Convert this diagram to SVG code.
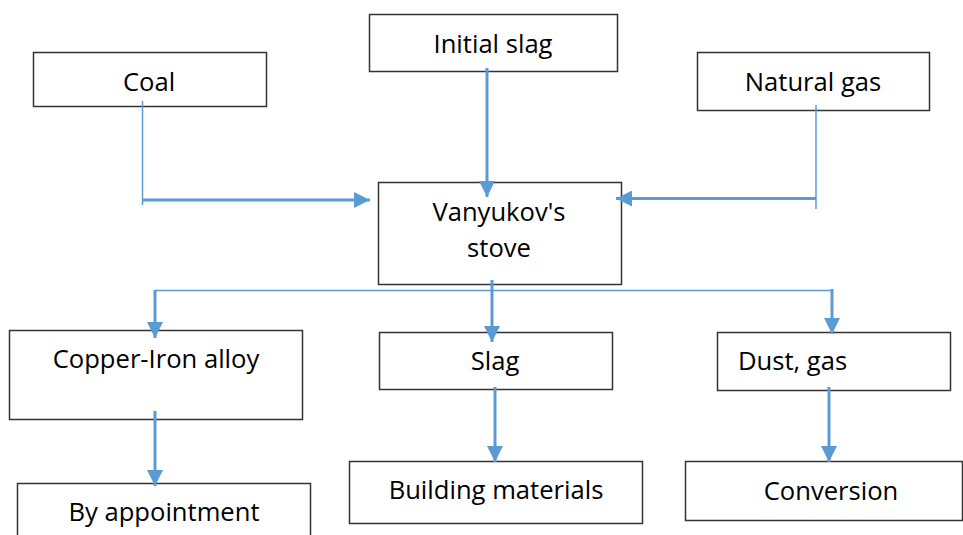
<svg xmlns="http://www.w3.org/2000/svg" width="963" height="535" viewBox="0 0 963 535">
<style>
.box{fill:#fff;stroke:#333;stroke-width:1.5}
.t{font-family:"Open Sans","Liberation Sans",sans-serif;font-size:25.6px;fill:#000;text-anchor:middle}
.thin{stroke:#5B9BD5;stroke-width:1.5;fill:none}
.thick{stroke:#5B9BD5;stroke-width:3;fill:none}
</style>
<defs>
<marker id="ah" markerUnits="userSpaceOnUse" markerWidth="16" markerHeight="16" viewBox="0 0 16 16" refX="16" refY="8" orient="auto">
<path d="M0,0 L16,8 L0,16 Z" fill="#5B9BD5"/>
</marker>
</defs>
<rect width="963" height="535" fill="#fff"/>
<g id="coal"><rect class="box" x="33.5" y="52.5" width="233" height="54"/><text class="t" x="149" y="91">Coal</text></g>
<g id="initial-slag"><rect class="box" x="369.5" y="14.5" width="248" height="57"/><text class="t" x="493" y="53">Initial slag</text></g>
<g id="natural-gas"><rect class="box" x="697.5" y="52.5" width="232" height="58"/><text class="t" x="813" y="91">Natural gas</text></g>
<g id="stove"><rect class="box" x="378.5" y="182.5" width="243" height="102"/><text class="t" x="499" y="221">Vanyukov's</text><text class="t" x="499" y="257">stove</text></g>
<g id="copper-iron"><rect class="box" x="9.5" y="330.5" width="293" height="89"/><text class="t" x="156" y="368">Copper-Iron alloy</text></g>
<g id="slag"><rect class="box" x="379.5" y="332.5" width="233" height="57"/><text class="t" x="495" y="370">Slag</text></g>
<g id="dust-gas"><rect class="box" x="717.5" y="332.5" width="233" height="58"/><text class="t" x="738" y="370" style="text-anchor:start">Dust, gas</text></g>
<g id="by-appointment"><rect class="box" x="17.5" y="483.5" width="293" height="60"/><text class="t" x="164" y="521">By appointment</text></g>
<g id="building-materials"><rect class="box" x="349.5" y="461.5" width="293" height="62"/><text class="t" x="496" y="499">Building materials</text></g>
<g id="conversion"><rect class="box" x="685.5" y="461.5" width="277" height="59"/><text class="t" x="831" y="500">Conversion</text></g>
<g id="connectors">
<line class="thin" x1="142.5" y1="101" x2="142.5" y2="205"/>
<line class="thick" x1="142.5" y1="200" x2="370" y2="200" marker-end="url(#ah)"/>
<line class="thick" x1="487" y1="68" x2="487" y2="197" marker-end="url(#ah)"/>
<line class="thin" x1="816" y1="105" x2="816" y2="209"/>
<line class="thick" x1="816" y1="198.5" x2="616" y2="198.5" marker-end="url(#ah)"/>
<line class="thin" x1="155" y1="290.5" x2="832" y2="290.5"/>
<line class="thick" x1="155" y1="290" x2="155" y2="338" marker-end="url(#ah)"/>
<line class="thick" x1="492" y1="280" x2="492" y2="342" marker-end="url(#ah)"/>
<line class="thick" x1="832" y1="289" x2="832" y2="334" marker-end="url(#ah)"/>
<line class="thick" x1="155" y1="411" x2="155" y2="486" marker-end="url(#ah)"/>
<line class="thick" x1="495" y1="387" x2="495" y2="462" marker-end="url(#ah)"/>
<line class="thick" x1="829" y1="387" x2="829" y2="462" marker-end="url(#ah)"/>
</g>
</svg>
